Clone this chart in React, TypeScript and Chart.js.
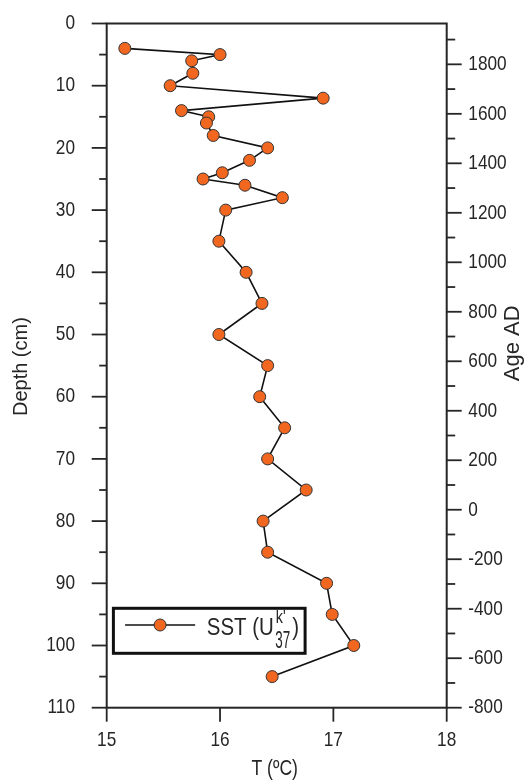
import React, { useEffect, useRef } from "react";
import { Chart, registerables } from "chart.js";

Chart.register(...registerables);

// Core sample depths (cm) and alkenone SST (°C)
const depthCm = [4, 5, 6, 8, 10, 12, 14, 15, 16, 18, 20, 22, 24, 25, 26, 28, 30, 35, 40, 45, 50, 55, 60, 65, 70, 75, 80, 85, 90, 95, 100, 105];
const sstC = [15.16, 16.0, 15.75, 15.76, 15.56, 16.91, 15.66, 15.9, 15.88, 15.94, 16.42, 16.26, 16.02, 15.85, 16.22, 16.55, 16.05, 15.99, 16.23, 16.37, 15.99, 16.42, 16.35, 16.57, 16.42, 16.76, 16.38, 16.42, 16.94, 16.99, 17.18, 16.46];

// Axis ticks
const tempTicks = [15, 16, 17, 18];
const depthMajor = [0, 10, 20, 30, 40, 50, 60, 70, 80, 90, 100, 110];
const depthMinor = [5, 15, 25, 35, 45, 55, 65, 75, 85, 95, 105];
const ageMajor = [-800, -600, -400, -200, 0, 200, 400, 600, 800, 1000, 1200, 1400, 1600, 1800];
const ageMinor = [-700, -500, -300, -100, 100, 300, 500, 700, 900, 1100, 1300, 1500, 1700, 1900];
const ageRange = [-800, 1965];

const FONT = "'Liberation Sans', Arial, sans-serif";
const INK = "#262626";
const ORANGE = "#f2671f";

type Ctx = CanvasRenderingContext2D;

// Draws text with an optional horizontal squeeze and rotation
function drawText(
  ctx: Ctx,
  text: string,
  x: number,
  y: number,
  size: number,
  opts: { sx?: number; align?: CanvasTextAlign; baseline?: CanvasTextBaseline; rotate?: number } = {}
) {
  const { sx = 1, align = "left", baseline = "alphabetic", rotate = 0 } = opts;
  ctx.save();
  ctx.translate(x, y);
  if (rotate) ctx.rotate(rotate);
  ctx.scale(sx, 1);
  ctx.font = `${size}px ${FONT}`;
  ctx.fillStyle = INK;
  ctx.textAlign = align;
  ctx.textBaseline = baseline;
  ctx.fillText(text, 0, 0);
  const w = ctx.measureText(text).width * sx;
  ctx.restore();
  return w;
}

const TICK_SIZE = 21;
const TICK_SX = 0.82;

const framePlugin = {
  id: "frame",
  afterDraw(chart: any) {
    const { ctx, chartArea: a, scales } = chart;
    const ys = scales.y;
    const ys2 = scales.y2;
    const xs = scales.x;
    ctx.save();
    ctx.strokeStyle = INK;
    ctx.lineWidth = 2;
    ctx.strokeRect(a.left, a.top, a.right - a.left, a.bottom - a.top);

    const seg = (x1: number, y1: number, x2: number, y2: number) => {
      ctx.beginPath();
      ctx.moveTo(x1, y1);
      ctx.lineTo(x2, y2);
      ctx.stroke();
    };
    ctx.lineWidth = 1.8;
    depthMajor.forEach((v) => { const p = ys.getPixelForValue(v); seg(a.left - 15, p, a.left, p); });
    depthMinor.forEach((v) => { const p = ys.getPixelForValue(v); seg(a.left - 7.5, p, a.left, p); });
    ageMajor.forEach((v) => { const p = ys2.getPixelForValue(v); seg(a.right, p, a.right + 15, p); });
    ageMinor.forEach((v) => { const p = ys2.getPixelForValue(v); seg(a.right, p, a.right + 8.5, p); });
    tempTicks.forEach((v) => { const p = xs.getPixelForValue(v); seg(p, a.bottom, p, a.bottom + 14); });

    // Tick labels
    depthMajor.forEach((v) => {
      drawText(ctx, String(v), a.left - 31.7, ys.getPixelForValue(v), TICK_SIZE, { sx: TICK_SX, align: "right", baseline: "middle" });
    });
    ageMajor.forEach((v) => {
      drawText(ctx, String(v), a.right + 21.6, ys2.getPixelForValue(v), TICK_SIZE, { sx: TICK_SX, align: "left", baseline: "middle" });
    });
    tempTicks.forEach((v) => {
      drawText(ctx, String(v), xs.getPixelForValue(v), a.bottom + 33, TICK_SIZE, { sx: TICK_SX, align: "center", baseline: "middle" });
    });

    // Axis titles
    const midY = (a.top + a.bottom) / 2;
    drawText(ctx, "Depth (cm)", 26.7, midY + 1, 20, { align: "center", rotate: -Math.PI / 2 });
    drawText(ctx, "Age AD", a.right + 72.6, midY - 22.3, 22, { align: "center", rotate: -Math.PI / 2 });
    drawText(ctx, "T (ºC)", (a.left + a.right) / 2 - 2, a.bottom + 67.3, 22, { sx: 0.8, align: "center" });

    // Legend box
    const bx = a.left + 6.7;
    const by = a.bottom - 99.4;
    const bw = 191.7;
    const bh = 45;
    ctx.fillStyle = "#ffffff";
    ctx.fillRect(bx, by, bw, bh);
    ctx.lineWidth = 3;
    ctx.strokeStyle = "#111111";
    ctx.strokeRect(bx, by, bw, bh);

    const ly = by + 16.7;
    ctx.lineWidth = 1.4;
    ctx.strokeStyle = "#111111";
    seg(bx + 11.7, ly, bx + 81.7, ly);
    ctx.beginPath();
    ctx.arc(bx + 46.7, ly, 6, 0, Math.PI * 2);
    ctx.fillStyle = ORANGE;
    ctx.fill();
    ctx.lineWidth = 1;
    ctx.strokeStyle = "#333333";
    ctx.stroke();

    const base = by + 26.7;
    let tx = bx + 93.4;
    tx += drawText(ctx, "SST (U", tx, base, 23.5, { sx: 0.87 });
    tx += 1.5;
    drawText(ctx, "k'", tx + 0.5, by + 14.5, 19, { sx: 0.75 });
    drawText(ctx, "37", tx, by + 39.4, 24, { sx: 0.56 });
    drawText(ctx, ")", tx + 17, base, 23.5, { sx: 0.87 });
    ctx.restore();
  },
};

export default function App() {
  const canvasRef = useRef<HTMLCanvasElement | null>(null);

  useEffect(() => {
    if (!canvasRef.current) return;

    const points = depthCm.map((d, i) => ({ x: sstC[i], y: d }));

    const hiddenAxis = {
      grid: { display: false, drawTicks: false },
      border: { display: false },
      ticks: { display: false },
      title: { display: false },
    };

    const chart = new Chart(canvasRef.current, {
      type: "scatter",
      data: {
        datasets: [
          {
            label: "SST",
            data: points,
            showLine: true,
            borderColor: "#111111",
            borderWidth: 1.6,
            pointRadius: 6,
            pointBackgroundColor: ORANGE,
            pointBorderColor: "#333333",
            pointBorderWidth: 1,
            yAxisID: "y",
          },
        ],
      },
      options: {
        responsive: false,
        animation: false,
        layout: { padding: { top: 23.5, left: 0, right: 0, bottom: 0 } },
        plugins: { legend: { display: false }, tooltip: { enabled: false } },
        scales: {
          x: {
            type: "linear",
            position: "bottom",
            min: tempTicks[0],
            max: tempTicks[tempTicks.length - 1],
            afterFit: (s: any) => { s.height = 72.3; },
            ...hiddenAxis,
          },
          y: {
            type: "linear",
            position: "left",
            reverse: true,
            min: depthMajor[0],
            max: depthMajor[depthMajor.length - 1],
            afterFit: (s: any) => { s.width = 106.7; },
            ...hiddenAxis,
          },
          y2: {
            type: "linear",
            position: "right",
            min: ageRange[0],
            max: ageRange[1],
            afterFit: (s: any) => { s.width = 78.3; },
            ...hiddenAxis,
          },
        },
      },
      plugins: [framePlugin],
    });

    return () => chart.destroy();
  }, []);

  return (
    <div style={{ position: "fixed", left: 0, top: 0, width: 525, height: 780, background: "#fff" }}>
      <canvas ref={canvasRef} width={525} height={780} style={{ display: "block" }} />
    </div>
  );
}
